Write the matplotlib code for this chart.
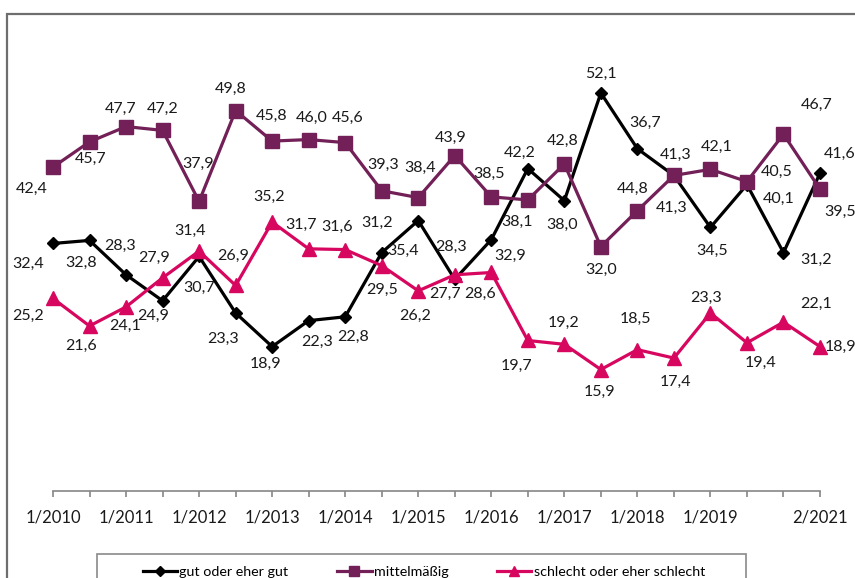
import matplotlib
matplotlib.use("Agg")
import matplotlib.pyplot as plt
from matplotlib.patches import Rectangle
from matplotlib.lines import Line2D

# ── Daten ────────────────────────────────────────────────────────────────
zeitpunkte = ["1/2010", "", "1/2011", "", "1/2012", "", "1/2013", "", "1/2014", "",
              "1/2015", "", "1/2016", "", "1/2017", "", "1/2018", "", "1/2019", "",
              "", "2/2021"]

gut = [32.4, 32.8, 28.3, 24.9, 30.7, 23.3, 18.9, 22.3, 22.8, 31.2, 35.4,
       27.7, 32.9, 42.2, 38.0, 52.1, 44.8, 41.3, 34.5, 40.1, 31.2, 41.6]
mittel = [42.4, 45.7, 47.7, 47.2, 37.9, 49.8, 45.8, 46.0, 45.6, 39.3, 38.4,
          43.9, 38.5, 38.1, 42.8, 32.0, 36.7, 41.3, 42.1, 40.5, 46.7, 39.5]
schlecht = [25.2, 21.6, 24.1, 27.9, 31.4, 26.9, 35.2, 31.7, 31.6, 29.5, 26.2,
            28.3, 28.6, 19.7, 19.2, 15.9, 18.5, 17.4, 23.3, 19.4, 22.1, 18.9]

namen = ["gut oder eher gut", "mittelmäßig", "schlecht oder eher schlecht"]

# Position der Datenbeschriftungen (dx, dy in Pixel, dy nach unten positiv)
off_gut = [(-25, 20), (-8, 22), (-6, -29), (-9, 15), (0, 31), (-13, 26), (-7, 17),
           (8, 21), (8, 20), (-5, -30), (-15, 30), (-10, 15), (19, 16), (-8, -16),
           (-2, 24), (0, -19), (-5, 40), (-2, 32), (2, 23), (32, 14), (33, 7), (20, -19)]
off_mittel = [(-21, 22), (1, 17), (-5, -18), (0, -22), (-1, -38), (-5, -22), (-1, -25),
              (3, -22), (2, -25), (1, -26), (2, -30), (-4, -18), (-2, -23), (-11, 22),
              (-2, -23), (0, 23), (8, -88), (2, -21), (6, -22), (30, -10), (33, -29), (20, 23)]
off_schlecht = [(-25, 17), (-8, 20), (-1, 19), (-8, -20), (-9, -20), (-2, -30), (-3, -25),
                (-8, -24), (-8, -23), (0, 24), (-3, 25), (-4, -28), (-11, 21), (-11, 25),
                (-1, -21), (-1, 22), (-2, -31), (2, 24), (-4, -15), (14, 20), (33, -18), (20, 0)]

farben = ["#000000", "#722057", "#D7075F"]
marker = ["D", "s", "^"]
groesse = [6.5, 9.5, 9.5]

plt.rcParams["font.family"] = ["Lato", "DejaVu Sans"]

fig = plt.figure(figsize=(8.55, 5.78), dpi=100)
ax = fig.add_axes([53 / 855, 87 / 578, 767 / 855, 458.4 / 578])

x = list(range(len(zeitpunkte)))
for werte, offs, f, m, ms in zip([gut, mittel, schlecht],
                                 [off_gut, off_mittel, off_schlecht],
                                 farben, marker, groesse):
    ax.plot(x, werte, color=f, lw=2.3, marker=m, ms=ms, clip_on=False, zorder=3)
    for xi, v, (dx, dy) in zip(x, werte, offs):
        ax.annotate(f"{v:.1f}".replace(".", ","), (xi, v), xytext=(dx, -dy),
                    textcoords="offset pixels", ha="center", va="center",
                    fontsize=11.5, color="#1a1a1a", annotation_clip=False)

ax.set_xlim(0, 21)
ax.set_ylim(0, 60)
ax.set_xticks(x)
ax.set_xticklabels(zeitpunkte, fontsize=12)
ax.set_yticks([])
for s in ["left", "right", "top"]:
    ax.spines[s].set_visible(False)
ax.spines["bottom"].set_color("#868686")
ax.spines["bottom"].set_linewidth(1.2)
ax.tick_params(axis="x", length=4, width=1.2, color="#868686", pad=9, labelcolor="#1a1a1a")

# Rahmen des Diagrammbereichs
fig.patches.append(Rectangle((7 / 855, -0.1), 1.2, 0.1 + 1 - 14 / 578,
                             transform=fig.transFigure, fill=False,
                             edgecolor="#6e6e6e", lw=1.6))
# Legendenrahmen
fig.patches.append(Rectangle((97 / 855, -0.1), 649 / 855, 0.1 + 1 - 554 / 578,
                             transform=fig.transFigure, fill=False,
                             edgecolor="#8a8a8a", lw=1.2))

handles = [Line2D([], [], color=f, lw=2.3, marker=m, ms=ms * 0.8)
           for f, m, ms in zip(farben, marker, groesse)]
fig.legend(handles, namen, loc="center", bbox_to_anchor=(424 / 855, 1 - 572 / 578),
           ncol=3, frameon=False, fontsize=10.3, handlelength=2.4, handletextpad=0.15,
           columnspacing=3.4, borderpad=0)

fig.savefig("out.png", dpi=100)
